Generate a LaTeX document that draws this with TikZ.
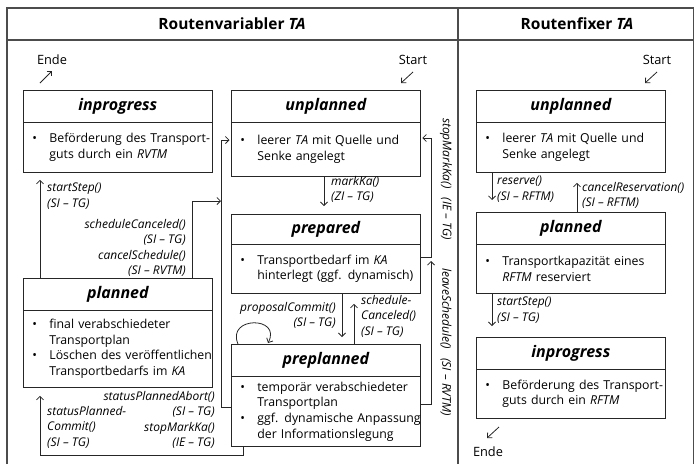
\documentclass[tikz,border=0pt]{standalone}
\usepackage{fontspec}
\setmainfont{Open Sans}
\usetikzlibrary{arrows.meta}
% bulleted first line and indented follow-up line of a state description
\newcommand\bl[1]{\hspace*{6.5pt}\makebox[17pt][l]{\textbullet}\mbox{#1}}
\newcommand\cl[1]{\hspace*{23.5pt}\mbox{#1}}
\begin{document}
\begin{tikzpicture}[x=1pt,y=-1pt,
  frameline/.style={draw=black!70, line width=1.3pt},
  header/.style={font=\fontsize{15.5}{18}\selectfont\bfseries, inner sep=0pt},
  statetitle/.style={draw=black!85, line width=0.8pt, anchor=north west,
    minimum width=189pt, inner sep=0pt,
    font=\fontsize{16}{18}\selectfont\bfseries\itshape},
  statebody/.style={draw=black!85, line width=0.8pt, anchor=north west,
    minimum width=189pt, inner xsep=2.5pt, inner ysep=0pt, text width=184pt,
    align=left, font=\fontsize{12.3}{15.6}\selectfont},
  trans/.style={draw=black!85, line width=0.8pt,
    -{Straight Barb[length=3.5pt,width=7pt]}},
  lbl/.style={font=\fontsize{12}{15.5}\selectfont\itshape, inner sep=0pt},
  endpt/.style={font=\fontsize{12.8}{15}\selectfont, inner sep=0pt},
]
\useasboundingbox (0,0) rectangle (695,464);

% outer frame with the two columns
\draw[frameline] (7,464) -- (7,8) -- (693.5,8) -- (693.5,464);
\draw[frameline] (7,40) -- (693.5,40);
\draw[frameline, line width=2pt] (458,8) -- (458,464);
\node[header] (hv) at (232,24) {Routenvariabler \textit{TA}};
\node[header] (hf) at (577,24) {Routenfixer \textit{TA}};

% ---------------- route-variable TA ----------------
\node[statetitle, minimum height=32pt] (ipL-t) at (23,90) {inprogress};
\node[statebody, minimum height=50pt] (ipL) at (23,122)
  {\bl{Beförderung des Transport-}\\\cl{guts durch ein \textit{RVTM}}};

\node[statetitle, minimum height=32pt] (unL-t) at (231,90) {unplanned};
\node[statebody, minimum height=54pt] (unL) at (231,122)
  {\bl{leerer \textit{TA} mit Quelle und}\\\cl{Senke angelegt}};

\node[statetitle, minimum height=32pt] (plL-t) at (23,278) {planned};
\node[statebody, minimum height=77pt] (plL) at (23,310)
  {\bl{final verabschiedeter}\\\cl{Transportplan}\\
   \bl{Löschen des veröffentlichen}\\\cl{Transportbedarfs im \textit{KA}}};

\node[statetitle, minimum height=30pt] (prep-t) at (231,214) {prepared};
\node[statebody, minimum height=49pt] (prep) at (231,244)
  {\bl{Transportbedarf im \textit{KA}}\\\cl{hinterlegt (ggf. dynamisch)}};

\node[statetitle, minimum height=32pt] (ppl-t) at (231,344) {preplanned};
\node[statebody, minimum height=70pt] (ppl) at (231,376)
  {\bl{temporär verabschiedeter}\\\cl{Transportplan}\\
   \bl{ggf. dynamische Anpassung}\\\cl{der Informationslegung}};

% start and end markers
\node[endpt] (endL) at (52,60) {Ende};
\coordinate (endLa) at (40,83);
\coordinate (endLb) at (52,71);
\draw[trans] (endLa) -- (endLb);
\node[endpt] (startL) at (413,60) {Start};
\coordinate (startLa) at (413,72);
\coordinate (startLb) at (401,83);
\draw[trans] (startLa) -- (startLb);

% transitions
\draw[trans, shorten >=7pt] (40,0 |- plL-t.north) -- (40,0 |- ipL.south);
\node[lbl, anchor=north west, align=left] (lStartL) at (47,183)
  {startStep()\\(SI – TG)};

\coordinate (junL) at (221,201);
\draw[trans] (192,0 |- plL-t.north) |- (junL);
\node[lbl, anchor=north east, align=right] (lCancelL) at (186,219)
  {scheduleCanceled()\\(SI – TG)\\cancelSchedule()\\(SI – RVTM)};

\draw[trans, shorten >=1.5pt] (ppl.west |- 0,407) -| (221,140) -- (unL.west |- 0,140);
\node[lbl, anchor=north east, align=right] (lAbort) at (215,391)
  {statusPlannedAbort()\\(SI – TG)\\stopMarkKa()\\(IE – TG)};

\draw[trans, shorten >=8pt] (243,0 |- ppl.south) |- (40,455) -- (40,0 |- plL.south);
\node[lbl, anchor=north west, align=left] (lCommit) at (47,406)
  {statusPlanned-\\Commit()\\(SI – TG)};

\draw[trans, shorten >=8pt] (324,0 |- unL.south) -- (324,0 |- prep-t.north);
\node[lbl, anchor=north west, align=left] (lMark) at (331,176)
  {markKa()\\(ZI – TG)};

\draw[trans, shorten >=7pt] (342,0 |- prep.south) -- (342,0 |- ppl-t.north);
\node[lbl, anchor=north east, align=right] (lProp) at (336,302)
  {proposalCommit()\\(SI – TG)};

\draw[trans, shorten >=10pt] (354,0 |- ppl-t.north) -- (354,0 |- prep.south);
\node[lbl, anchor=north west, align=left] (lSched) at (361,295)
  {schedule-\\Canceled()\\(SI – TG)};

\coordinate (loopA) at (238,344);
\coordinate (loopB) at (268,343);
\draw[trans] (loopA) .. controls (226,316) and (282,316) .. (loopB);

\draw[trans, shorten >=1.5pt] (prep.east |- 0,257) -| (431,138) -- (unL.east |- 0,138);
\coordinate (junR) at (431,261);
\draw[trans] (ppl.east |- 0,404) -| (junR);
\node[lbl, rotate=-90] (lStopR) at (446,179) {stopMarkKa()\hspace{9pt}(IE – TG)};
\node[lbl, rotate=-90] (lLeave) at (446,342) {leaveSchedule()\hspace{9pt}(SI – RVTM)};

% ---------------- route-fixed TA ----------------
\node[statetitle, minimum height=32pt] (unR-t) at (476,90) {unplanned};
\node[statebody, minimum height=50pt] (unR) at (476,122)
  {\bl{leerer \textit{TA} mit Quelle und}\\\cl{Senke angelegt}};

\node[statetitle, minimum height=32pt] (plR-t) at (476,212) {planned};
\node[statebody, minimum height=49pt] (plR) at (476,244)
  {\bl{Transportkapazität eines}\\\cl{\textit{RFTM} reserviert}};

\node[statetitle, minimum height=32pt] (ipR-t) at (476,337) {inprogress};
\node[statebody, minimum height=49pt] (ipR) at (476,369)
  {\bl{Beförderung des Transport-}\\\cl{guts durch ein \textit{RFTM}}};

\node[endpt] (startR) at (657,60) {Start};
\coordinate (startRa) at (657,72);
\coordinate (startRb) at (645,83);
\draw[trans] (startRa) -- (startRb);
\node[endpt] (endR) at (488,452) {Ende};
\coordinate (endRa) at (499,427);
\coordinate (endRb) at (487,438);
\draw[trans] (endRa) -- (endRb);

\draw[trans, shorten >=12pt] (492,0 |- unR.south) -- (492,0 |- plR-t.north);
\node[lbl, anchor=north west, align=left] (lRes) at (497,176)
  {reserve()\\(SI – RFTM)};
\draw[trans, shorten >=10pt] (577,0 |- plR-t.north) -- (577,0 |- unR.south);
\node[lbl, anchor=north west, align=left] (lCanR) at (582,182)
  {cancelReservation()\\(SI – RFTM)};
\draw[trans, shorten >=11pt] (492,0 |- plR.south) -- (492,0 |- ipR-t.north);
\node[lbl, anchor=north west, align=left] (lStartR) at (497,297)
  {startStep()\\(SI – TG)};
\end{tikzpicture}
\end{document}
